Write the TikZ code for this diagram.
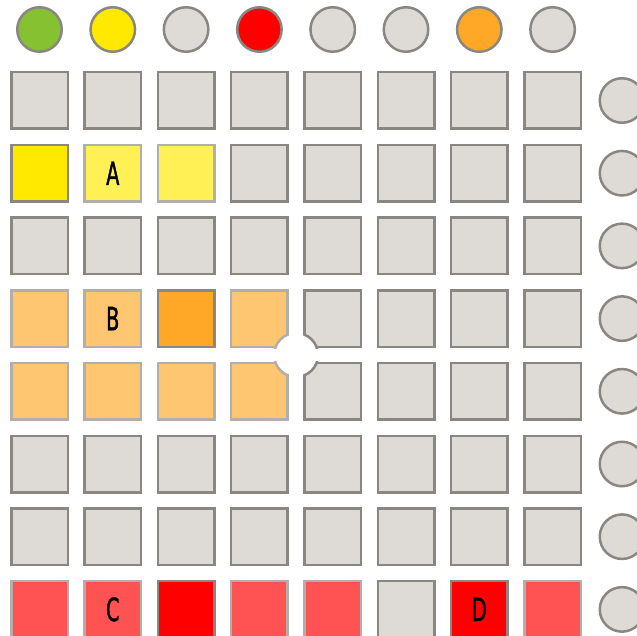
\documentclass[tikz,border=0pt]{standalone}
\usepackage{fontspec}
\usepackage{tikz}
\usetikzlibrary{calc}
\newfontfamily\padfont{DejaVu Sans}[FakeStretch=0.6,FakeBold=1.2]

\definecolor{padgray}{RGB}{222,219,215}
\definecolor{darkline}{RGB}{138,135,131}
\definecolor{lightline}{RGB}{178,174,170}
\definecolor{padgreen}{RGB}{134,193,50}
\definecolor{padyellow}{RGB}{255,233,0}
\definecolor{padyellowlt}{RGB}{255,240,85}
\definecolor{padorange}{RGB}{255,168,40}
\definecolor{padorangelt}{RGB}{255,198,114}
\definecolor{padred}{RGB}{255,0,0}
\definecolor{padredlt}{RGB}{255,82,82}

\begin{document}
\begin{tikzpicture}[x=1pt,y=-1pt,
  pad/.style={rectangle,draw=darkline,line width=2.5pt,minimum size=56.5pt,
              inner sep=0pt,fill=padgray},
  padgrey/.style={},
  padyel/.style={fill=padyellow},
  padyellt/.style={fill=padyellowlt,draw=lightline},
  padorg/.style={fill=padorange},
  padorglt/.style={fill=padorangelt,draw=lightline},
  padred/.style={fill=padred},
  padredlt/.style={fill=padredlt,draw=lightline},
  knob/.style={circle,draw=darkline,line width=2.5pt,minimum size=44.5pt,
               inner sep=0pt,fill=padgray},
  letter/.style={font=\padfont\fontsize{32}{32}\selectfont,text=black}]

\useasboundingbox (0,0) rectangle (637,636);

% top row of round buttons
\foreach \col [count=\c from 0] in {padgreen,padyellow,padgray,padred,
                                    padgray,padgray,padorange,padgray}
  \node[knob,fill=\col] (top-\c) at (39.5+73.3*\c,29.5) {};

% side column of round buttons
\foreach \r in {0,...,7}
  \node[knob] (side-\r) at (622,100.5+72.7*\r) {};

% the 8x8 pads
\foreach \r/\cells in {
  0/{padgrey,padgrey,padgrey,padgrey,padgrey,padgrey,padgrey,padgrey},
  1/{padyel,padyellt,padyellt,padgrey,padgrey,padgrey,padgrey,padgrey},
  2/{padgrey,padgrey,padgrey,padgrey,padgrey,padgrey,padgrey,padgrey},
  3/{padorglt,padorglt,padorg,padorglt,padgrey,padgrey,padgrey,padgrey},
  4/{padorglt,padorglt,padorglt,padorglt,padgrey,padgrey,padgrey,padgrey},
  5/{padgrey,padgrey,padgrey,padgrey,padgrey,padgrey,padgrey,padgrey},
  6/{padgrey,padgrey,padgrey,padgrey,padgrey,padgrey,padgrey,padgrey},
  7/{padredlt,padredlt,padred,padredlt,padredlt,padgrey,padred,padredlt}}
  \foreach \s [count=\c from 0] in \cells
    \node[pad,\s] (pad-\r-\c) at (39.5+73.3*\c,100.5+72.7*\r) {};

% round hole between the four middle pads
\coordinate (hole) at ($(pad-3-3.south east)!0.5!(pad-4-4.north west)$);
\foreach \p/\col in {3-3/lightline,3-4/darkline,4-3/lightline,4-4/darkline}{
  \begin{scope}
    \clip (pad-\p.north west) rectangle (pad-\p.south east);
    \filldraw[fill=white,draw=\col,line width=2.5pt] (hole) circle (22pt);
  \end{scope}
}

% letters
\node[letter] at (pad-1-1) {A};
\node[letter] at (pad-3-1) {B};
\node[letter] at (pad-7-1) {C};
\node[letter] at (pad-7-6) {D};
\end{tikzpicture}
\end{document}
